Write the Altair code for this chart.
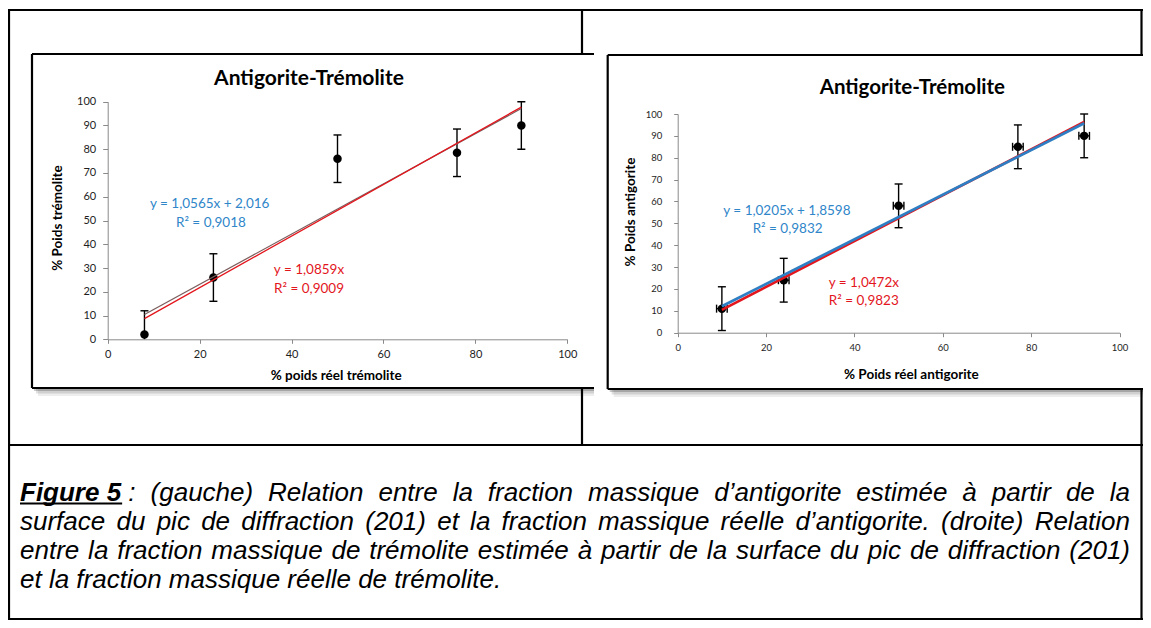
import altair as alt
import pandas as pd

W, H = 1135, 612

# ---------------- data ----------------
x_ticks = [0, 20, 40, 60, 80, 100]
y_ticks = [0, 10, 20, 30, 40, 50, 60, 70, 80, 90, 100]

panel_title = "Antigorite-Trémolite"

# left panel (trémolite)
left_x = [8, 23, 50, 76, 90]
left_y = [2, 26, 76, 78.5, 90]
left_yerr = [10, 10, 10, 10, 10]
left_fit_slope = [1.0565, 1.0859]
left_fit_intercept = [2.016, 0.0]
left_fit_color = ["#7b5d5d", "#e3161d"]
left_fit_width = [1.2, 1.3]
left_eq_text = ["y = 1,0565x + 2,016", "R² = 0,9018", "y = 1,0859x", "R² = 0,9009"]
left_xtitle = "% poids réel trémolite"
left_ytitle = "% Poids trémolite"

# right panel (antigorite)
right_x = [10, 24, 50, 77, 92]
right_y = [11, 24, 58, 85, 90]
right_yerr = [10, 10, 10, 10, 10]
right_xerr = [1.2, 1.2, 1.2, 1.2, 1.2]
right_fit_slope = [1.0472, 1.0205]
right_fit_intercept = [0.0, 1.8598]
right_fit_color = ["#e3161d", "#2e7ec4"]
right_fit_width = [2.6, 2.8]
right_eq_text = ["y = 1,0205x + 1,8598", "R² = 0,9832", "y = 1,0472x", "R² = 0,9823"]
right_xtitle = "% Poids réel antigorite"
right_ytitle = "% Poids antigorite"

eq_colors = ["#2f86c9", "#2f86c9", "#e3161d", "#e3161d"]

caption_lines = [
    ["Figure 5", ":", "(gauche)", "Relation", "entre", "la", "fraction", "massique",
     "d’antigorite", "estimée", "à", "partir", "de", "la"],
    ["surface", "du", "pic", "de", "diffraction", "(201)", "et", "la", "fraction",
     "massique", "réelle", "d’antigorite.", "(droite)", "Relation"],
    ["entre", "la", "fraction", "massique", "de", "trémolite", "estimée", "à", "partir",
     "de", "la", "surface", "du", "pic", "de", "diffraction", "(201)"],
    ["et", "la", "fraction", "massique", "réelle", "de", "trémolite."],
]

# ---------------- layout (pixels in chart space) ----------------
LEFT_XR, LEFT_YR = [99.7, 559.3], [331.3, 93.7]
RIGHT_XR, RIGHT_YR = [669.7, 1111.5], [324.7, 106.0]

AXC = "#8a8a8a"


def build_panel(xs, ys, yerr, xerr, slopes, icpts, colors, widths, xr, yr,
                lab_size, ylab_pad, xlab_pad, ytick):
    lo = [max(0.0, y - e) for y, e in zip(ys, yerr)]
    hi = [min(100.0, y + e) for y, e in zip(ys, yerr)]
    pts = pd.DataFrame({"x": xs, "y": ys, "lo": lo, "hi": hi})
    low = pd.DataFrame({"x": [x for x, y, e in zip(xs, ys, yerr) if y - e >= 0],
                        "lo": [y - e for y, e in zip(ys, yerr) if y - e >= 0]})
    xsc = alt.Scale(domain=[0, 100], range=xr, nice=False, zero=False)
    ysc = alt.Scale(domain=[0, 100], range=yr, nice=False, zero=False)
    common = dict(grid=False, title=None, domainColor=AXC, domainWidth=1,
                  tickColor=AXC, tickWidth=1, labelFont="Lato", labelColor="#1e1e1e",
                  labelFontSize=lab_size, labelFlush=False, labelOverlap=False,
                  labelBound=False, zindex=1)
    xax = alt.Axis(orient="bottom", offset=yr[0] - H, values=x_ticks, tickSize=4,
                   labelPadding=xlab_pad, **common)
    yax = alt.Axis(orient="left", offset=-xr[0], values=y_ticks, tickSize=ytick,
                   labelPadding=ylab_pad, **common)

    def X(f):
        return alt.X(f"{f}:Q", scale=xsc, axis=xax)

    def Y(f):
        return alt.Y(f"{f}:Q", scale=ysc, axis=yax)

    base = alt.Chart(pts)
    layers = [
        base.mark_rule(color="black", strokeWidth=1.4).encode(x=X("x"), y=Y("lo"), y2="hi"),
        base.mark_tick(orient="horizontal", size=8, thickness=1.4, color="black", opacity=1)
            .encode(x=X("x"), y=Y("hi")),
        alt.Chart(low).mark_tick(orient="horizontal", size=8, thickness=1.4, color="black",
                                 opacity=1).encode(x=X("x"), y=Y("lo")),
    ]
    if xerr is not None:
        xe = pd.DataFrame({"y": ys,
                           "xl": [x - e for x, e in zip(xs, xerr)],
                           "xh": [x + e for x, e in zip(xs, xerr)]})
        xb = alt.Chart(xe)
        layers += [
            xb.mark_rule(color="black", strokeWidth=1.4).encode(x=X("xl"), x2="xh", y=Y("y")),
            xb.mark_tick(orient="vertical", size=8, thickness=1.4, color="black", opacity=1)
              .encode(x=X("xl"), y=Y("y")),
            xb.mark_tick(orient="vertical", size=8, thickness=1.4, color="black", opacity=1)
              .encode(x=X("xh"), y=Y("y")),
        ]
    layers.append(base.mark_circle(size=72, color="black", opacity=1).encode(x=X("x"), y=Y("y")))
    xmin, xmax = min(xs), max(xs)
    for s, b, c, w in zip(slopes, icpts, colors, widths):
        fd = pd.DataFrame({"x": [xmin, xmax], "y": [s * xmin + b, s * xmax + b]})
        layers.append(alt.Chart(fd).mark_line(color=c, strokeWidth=w).encode(x=X("x"), y=Y("y")))
    return alt.layer(*layers)


left_panel = build_panel(left_x, left_y, left_yerr, None, left_fit_slope, left_fit_intercept,
                         left_fit_color, left_fit_width, LEFT_XR, LEFT_YR, 11, 7.0, 5.0, 5)
right_panel = build_panel(right_x, right_y, right_yerr, right_xerr, right_fit_slope,
                          right_fit_intercept, right_fit_color, right_fit_width,
                          RIGHT_XR, RIGHT_YR, 9.5, 12.0, 5.5, 4)

# ---------------- decorations ----------------
PX = lambda f: alt.X(f"{f}:Q", scale=None, axis=None)
PY = lambda f: alt.Y(f"{f}:Q", scale=None, axis=None)

table_rules = pd.DataFrame([
    dict(x=0, x2=W, y=2, y2=2),
    dict(x=1, x2=1, y=2, y2=611),
    dict(x=1133.5, x2=1133.5, y=2, y2=611),
    dict(x=0, x2=W, y=611, y2=611),
    dict(x=0, x2=W, y=437, y2=437),
    dict(x=574, x2=574, y=2, y2=437),
])
table_layer = alt.Chart(table_rules).mark_rule(color="black", strokeWidth=2.2).encode(
    x=PX("x"), x2="x2", y=PY("y"), y2="y2")

frames = [(24, 586, 46, 380), (599.7, W, 47, 381)]
rect_rows = []
for (fx, fx2, fy, fy2) in frames:
    for dx, dy, op in [(2, 3, 0.20), (4, 5.5, 0.12), (6, 8, 0.07)]:
        rect_rows.append(dict(x=fx + dx, x2=fx2, y=fy + dy, y2=fy2 + dy, c="#000000", o=op))
for (fx, fx2, fy, fy2) in frames:
    rect_rows.append(dict(x=fx, x2=fx2, y=fy, y2=fy2, c="#ffffff", o=1.0))
rect_layer = alt.Chart(pd.DataFrame(rect_rows)).mark_rect().encode(
    x=PX("x"), x2="x2", y=PY("y"), y2="y2",
    fill=alt.Fill("c:N", scale=None), opacity=alt.Opacity("o:Q", scale=None))

frame_rows = []
for (fx, fx2, fy, fy2) in frames:
    frame_rows += [dict(x=fx, x2=fx2, y=fy, y2=fy), dict(x=fx, x2=fx, y=fy, y2=fy2),
                   dict(x=fx, x2=fx2, y=fy2, y2=fy2)]
frame_layer = alt.Chart(pd.DataFrame(frame_rows)).mark_rule(color="black", strokeWidth=2.2).encode(
    x=PX("x"), x2="x2", y=PY("y"), y2="y2")

# ---------------- chart texts ----------------
bold_rows = [
    dict(t=panel_title, x=301, y=70.5, a=0, s=21),
    dict(t=panel_title, x=904.3, y=79.5, a=0, s=20.5),
    dict(t=left_xtitle, x=328.2, y=367.7, a=0, s=13.5),
    dict(t=right_xtitle, x=903.4, y=367, a=0, s=13.5),
    dict(t=left_ytitle, x=50.2, y=210, a=270, s=13.5),
    dict(t=right_ytitle, x=623, y=204, a=270, s=13.5),
]
bold_layer = alt.Chart(pd.DataFrame(bold_rows)).mark_text(
    font="Lato", fontWeight="bold", color="black", align="center", baseline="middle").encode(
    x=PX("x"), y=PY("y"), text="t:N", angle=alt.Angle("a:Q", scale=None),
    size=alt.Size("s:Q", scale=None, legend=None))

eq_pos = [(201.7, 196), (202.9, 215.3), (301, 262), (301, 281.3),
          (778.9, 202.7), (779.6, 221.3), (855.8, 274.7), (855.8, 292.7)]
eq_rows = [dict(t=t, x=p[0], y=p[1], c=c) for t, p, c in
           zip(left_eq_text + right_eq_text, eq_pos, eq_colors + eq_colors)]
eq_layer = alt.Chart(pd.DataFrame(eq_rows)).mark_text(
    font="Lato", fontSize=13.5, align="center", baseline="middle").encode(
    x=PX("x"), y=PY("y"), text="t:N", color=alt.Color("c:N", scale=None))

# ---------------- caption (justified, Arial metrics) ----------------
AR = {' ': 278, '(': 333, ')': 333, ',': 278, '-': 333, '.': 278, ':': 278, '’': 222,
      'a': 556, 'b': 556, 'c': 500, 'd': 556, 'e': 556, 'f': 278, 'g': 556, 'h': 556,
      'i': 222, 'j': 222, 'k': 500, 'l': 222, 'm': 833, 'n': 556, 'o': 556, 'p': 556,
      'q': 556, 'r': 333, 's': 500, 't': 278, 'u': 556, 'v': 500, 'w': 722, 'x': 500,
      'y': 500, 'z': 500, 'é': 556, 'à': 556, 'è': 556, 'F': 611, 'R': 722}
AR_B = {'F': 611, 'i': 278, 'g': 611, 'u': 611, 'r': 389, 'e': 556, ' ': 278}
CAP_FS = 26
CAP_L, CAP_R = 12, 1122
CAP_BASE = [492.5, 521.5, 550.5, 579.5]


def tw(s, table):
    return sum(table.get(ch, 556) for ch in s) / 1000 * CAP_FS


reg_rows, bold_cap_rows, ul_rows = [], [], []
sp = tw(" ", AR)
for li, words in enumerate(caption_lines):
    bold0 = li == 0
    widths = [tw(w, AR_B if (bold0 and i == 0) else AR) for i, w in enumerate(words)]
    fixed = [bold0 and i == 1 for i in range(1, len(words))]  # gap before word i
    n_fixed = sum(fixed)
    n_str = len(words) - 1 - n_fixed
    if li == len(caption_lines) - 1:
        gap = sp
    else:
        gap = (CAP_R - CAP_L - sum(widths) - n_fixed * sp) / n_str
    pos = CAP_L
    for i, w in enumerate(words):
        if i > 0:
            pos += sp if fixed[i - 1] else gap
        row = dict(t=w, x=pos, y=CAP_BASE[li])
        if bold0 and i == 0:
            bold_cap_rows.append(row)
            ul_rows.append(dict(x=pos, x2=pos + widths[i] + 1, y=CAP_BASE[li] + 3))
        else:
            reg_rows.append(row)
        pos += widths[i]

cap_reg = alt.Chart(pd.DataFrame(reg_rows)).mark_text(
    font="Liberation Sans", fontStyle="italic", fontSize=CAP_FS, align="left",
    baseline="alphabetic", color="black").encode(x=PX("x"), y=PY("y"), text="t:N")
cap_bold = alt.Chart(pd.DataFrame(bold_cap_rows)).mark_text(
    font="Liberation Sans", fontStyle="italic", fontWeight="bold", fontSize=CAP_FS,
    align="left", baseline="alphabetic", color="black").encode(x=PX("x"), y=PY("y"), text="t:N")
cap_ul = alt.Chart(pd.DataFrame(ul_rows)).mark_rule(color="black", strokeWidth=2).encode(
    x=PX("x"), x2="x2", y=PY("y"))

chart = alt.layer(
    table_layer, rect_layer, frame_layer, left_panel, right_panel,
    bold_layer, eq_layer, cap_reg, cap_bold, cap_ul
).resolve_scale(x="independent", y="independent").properties(
    width=W, height=H, padding=0, background="white",
    autosize=alt.AutoSizeParams(type="none")
).configure_view(stroke=None)

chart.save("out.html", embed_options={"renderer": "svg", "actions": False})
